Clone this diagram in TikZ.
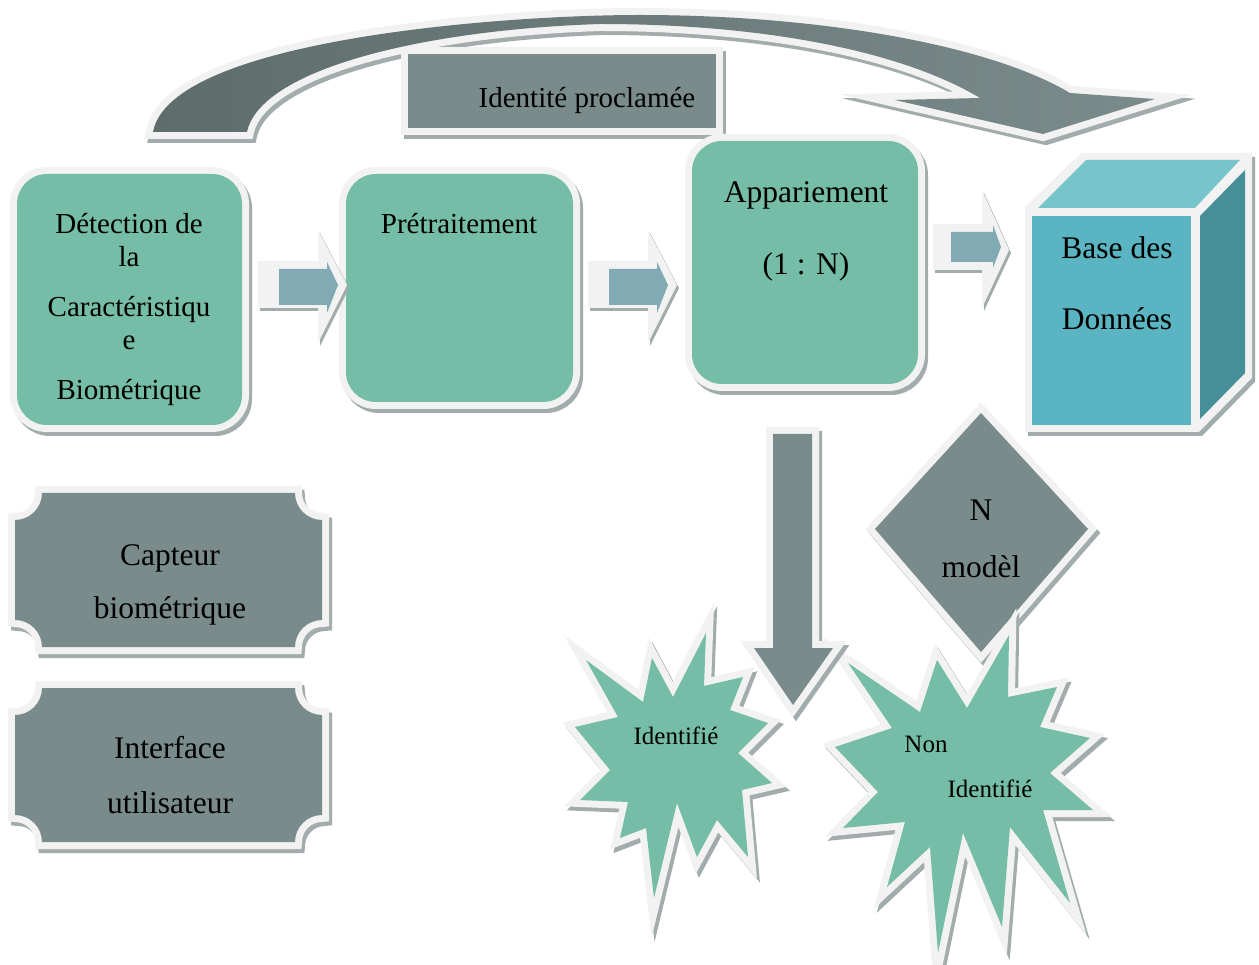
\documentclass[tikz,border=0pt]{standalone}
\usepackage{fontspec}
\setmainfont{Liberation Serif}
\definecolor{rimc}{HTML}{F2F2F2}
\definecolor{shadowc}{HTML}{A3ACAC}
\definecolor{greenc}{HTML}{75BDA7}
\definecolor{slatec}{HTML}{7A8B8B}
\definecolor{arrdark}{HTML}{5E6D6C}
\definecolor{steelc}{HTML}{82AAB4}
\definecolor{frontc}{HTML}{5AB4C1}
\definecolor{topc}{HTML}{77C4CC}
\definecolor{sidec}{HTML}{478F98}
% shape with drop shadow, light rim and coloured fill
\newcommand\layered[3][]{%
  \filldraw[shadowc, line width=14pt, line join=miter, shift={(3,4)}, #1] #3;
  \filldraw[rimc, line width=14pt, line join=miter, #1] #3;
  \fill[#2, #1] #3;
}
\newcommand\txtA{\fontsize{29}{34}\selectfont}
\newcommand\txtB{\fontsize{31.5}{36}\selectfont}
\newcommand\txtC{\fontsize{25}{30}\selectfont}
\tikzset{lbl/.style={anchor=base, inner sep=0pt}}
\begin{document}
\begin{tikzpicture}[x=1pt, y=-1pt]
\useasboundingbox (0,0) rectangle (1259,965);

% curved arrow over the top
\def\curvepath{(153,132) .. controls (170,40) and (500,15) .. (640,15)
  .. controls (820,15) and (990,45) .. (1070,93) -- (1155,99) -- (1043,134)
  -- (895,100) -- (980,98) .. controls (900,50) and (760,24) .. (600,24)
  .. controls (420,30) and (260,70) .. (247,132) -- cycle}
\filldraw[shadowc, line width=14pt, line join=miter, shift={(3,4)}] \curvepath;
\filldraw[rimc, line width=14pt, line join=miter] \curvepath;
\shade[left color=arrdark, right color=slatec] \curvepath;

% claimed identity label
\layered{slatec}{(408,54) rectangle (716,128)}
\node[lbl] (claim) at (587,108) {\txtA Identité proclamée};

% processing boxes
\layered[rounded corners=30pt]{greenc}{(17,174) rectangle (242,425)}
\layered[rounded corners=30pt]{greenc}{(346,174) rectangle (573,402)}
\layered[rounded corners=30pt]{greenc}{(692,141) rectangle (918,384)}
\node[lbl] (det1) at (129,234) {\txtA Détection de};
\node[lbl] (det2) at (129,267) {\txtA la};
\node[lbl] (det3) at (129,317) {\txtA Caractéristiqu};
\node[lbl] (det4) at (129,350) {\txtA e};
\node[lbl] (det5) at (129,400) {\txtA Biométrique};
\node[lbl] (pre) at (459,234) {\txtA Prétraitement};
\node[lbl] (app1) at (806,203) {\txtB Appariement};
\node[lbl] (app2) at (806,275) {\txtB (1 : N)};

% small block arrows between boxes
\foreach \dx in {0,330}{
  \begin{scope}[xshift=\dx]
    \fill[shadowc, shift={(2,3)}] (258,261) -- (318,261) -- (318,230) -- (347,285)
      -- (318,343) -- (318,308) -- (258,308) -- cycle;
    \fill[rimc] (258,261) -- (318,261) -- (318,230) -- (347,285)
      -- (318,343) -- (318,308) -- (258,308) -- cycle;
    \fill[steelc] (279,269) -- (327,269) -- (327,262) -- (338,285)
      -- (327,313) -- (327,305) -- (279,305) -- cycle;
  \end{scope}
}
\fill[shadowc, shift={(2,3)}] (933,224) -- (982,224) -- (982,190) -- (1009,250)
  -- (982,308) -- (982,270) -- (933,270) -- cycle;
\fill[rimc] (933,224) -- (982,224) -- (982,190) -- (1009,250)
  -- (982,308) -- (982,270) -- (933,270) -- cycle;
\fill[steelc] (951,232) -- (993,232) -- (993,225) -- (1001,247)
  -- (993,268) -- (993,262) -- (951,262) -- cycle;

% database cube
\def\cubeout{(1032,425) -- (1032,210) -- (1084,160) -- (1245,160) -- (1245,375) -- (1196,425) -- cycle}
\filldraw[shadowc, line width=14pt, line join=miter, shift={(3,4)}] \cubeout;
\filldraw[rimc, line width=14pt, line join=miter] \cubeout;
\fill[topc] (1038,208) -- (1086,160) -- (1240,160) -- (1195,208) -- cycle;
\fill[sidec] (1200,216) -- (1245,170) -- (1245,373) -- (1200,419) -- cycle;
\fill[frontc] (1032,216) rectangle (1191,425);
\node[lbl] (db1) at (1117,259) {\txtB Base des};
\node[lbl] (db2) at (1117,330) {\txtB Données};

% plaques on the left
\foreach \yy in {0,195}{
  \begin{scope}[yshift=-\yy]
    \layered{slatec}{(42,493) -- (295,493) arc[start angle=180, end angle=90, radius=27]
      -- (322,620) arc[start angle=270, end angle=180, radius=27]
      -- (42,647) arc[start angle=0, end angle=-90, radius=27]
      -- (15,520) arc[start angle=90, end angle=0, radius=27] -- cycle}
  \end{scope}
}
\node[lbl] (cap1) at (170,565) {\txtB Capteur};
\node[lbl] (cap2) at (170,618) {\txtB biométrique};
\node[lbl] (ui1) at (170,758) {\txtB Interface};
\node[lbl] (ui2) at (170,813) {\txtB utilisateur};

% N models diamond
\layered{slatec}{(981,413) -- (1088,529) -- (981,652) -- (875,529) -- cycle}
\node[lbl] (nm1) at (981,521) {\txtB N};
\node[lbl] (nm2) at (981,577) {\txtB modèl};

% outcome bursts
\layered{greenc}{(706,633) -- (704,686) -- (743,677) -- (730,710) -- (768,723)
  -- (738,753) -- (772,783) -- (742,790) -- (748,857) -- (717,820) -- (697,857)
  -- (677,803) -- (654,898) -- (646,828) -- (620,838) -- (628,802) -- (580,800)
  -- (610,770) -- (575,727) -- (618,717) -- (586,660) -- (643,702) -- (652,658)
  -- (673,697) -- cycle}
\node[lbl] (ok) at (676,744) {\txtC Identifié};

\layered{greenc}{(848,663) -- (920,712) -- (937,660) -- (967,708) -- (1009,635)
  -- (1008,697) -- (1057,687) -- (1040,727) -- (1090,738) -- (1050,773)
  -- (1093,810) -- (1043,810) -- (1070,903) -- (1010,827) -- (1002,927)
  -- (963,833) -- (938,953) -- (930,847) -- (887,887) -- (905,822) -- (843,828)
  -- (878,792) -- (835,747) -- (892,728) -- cycle}
\node[lbl] (ko1) at (926,752) {\txtC Non};
\node[lbl] (ko2) at (990,797) {\txtC Identifié};

% downward result arrow
\layered{slatec}{(773,434) -- (812,434) -- (812,648) -- (833,648) -- (793,705)
  -- (754,648) -- (773,648) -- cycle}
\end{tikzpicture}
\end{document}
